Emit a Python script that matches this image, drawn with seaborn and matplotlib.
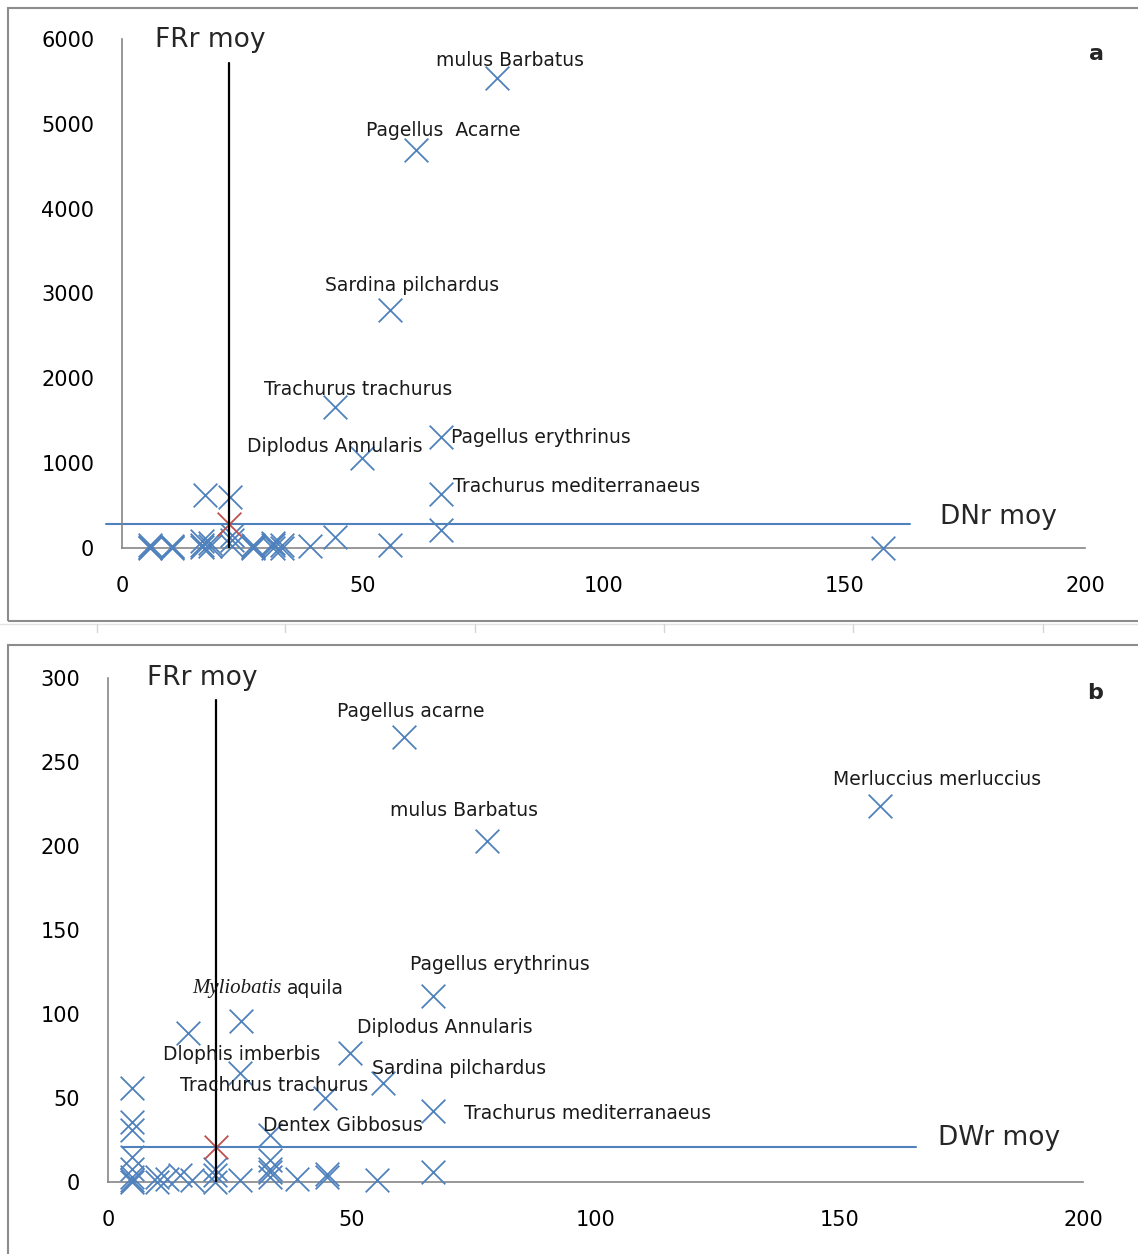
import numpy as np
import pandas as pd
import seaborn as sns
import matplotlib.pyplot as plt
from matplotlib.patches import Rectangle
from matplotlib.lines import Line2D

# ---- panel a : FRr vs DNr ----
a_species = ['mulus Barbatus', 'Pagellus  Acarne', 'Sardina pilchardus',
             'Trachurus trachurus', 'Pagellus erythrinus', 'Diplodus Annularis',
             'Trachurus mediterranaeus']
a_species_x = [77.9, 61.0, 55.7, 44.2, 66.3, 49.8, 66.3]
a_species_y = [5540, 4690, 2800, 1660, 1310, 1060, 640]
a_other_x = [66.3, 17.2, 22.4, 158.0, 55.7, 44.2, 39.0,
             5.8, 5.8, 5.8, 10.4, 10.4, 10.4, 16.6, 16.6, 16.6, 18.3, 18.3,
             22.8, 22.8, 22.8, 27.2, 27.2, 27.2, 31.4, 31.4, 31.4, 33.2, 33.2]
a_other_y = [210, 625, 600, 0, 30, 130, 20,
             0, 15, 30, 0, 10, 25, 40, 80, 10, 60, 20,
             20, 90, 150, 0, 15, 35, 30, 60, 5, 0, 40]
a_mean = (22.2, 283)

# ---- panel b : FRr vs DWr ----
b_species = ['Pagellus acarne', 'Merluccius merluccius', 'mulus Barbatus',
             'Pagellus erythrinus', 'Myliobatis|aquila', 'Diplodus Annularis',
             'Dlophis imberbis', 'Sardina pilchardus', 'Trachurus trachurus',
             'Trachurus mediterranaeus', 'Dentex Gibbosus']
b_species_x = [60.7, 158.4, 77.7, 66.7, 27.3, 49.6, 27.1, 56.4, 44.5, 66.7, 33.2]
b_species_y = [265, 224, 203, 111, 96, 77, 65, 59, 50, 42, 28]
b_other_x = [16.4, 4.9, 4.9, 4.9, 4.9, 4.9, 33.2, 33.2,
             4.9, 4.9, 4.9, 10.0, 10.0, 12.1, 14.8, 17.2, 21.9, 21.9, 21.9,
             27.1, 33.2, 33.2, 38.8, 44.9, 44.9, 55.2, 66.7]
b_other_y = [89, 56, 36, 31, 15, 8, 13, 8,
             0, 1, 3, 0, 3, 2, 4, 1, 0, 4, 8,
             1, 3, 6, 2, 3, 5, 1, 6]
b_mean = (22.1, 21)

# label placement (pixel offsets from the point, alignment)
a_label_pos = [(13, 18, 'center'), (28, 20, 'center'), (22, 25, 'center'),
               (23, 18, 'center'), (10, -1, 'left'), (-27, 12, 'center'),
               (12, 7, 'left')]
b_label_pos = [(7, 25, 'center'), (57, 26, 'center'), (-23, 30, 'center'),
               (67, 31, 'center'), (43, 32, 'split'), (95, 25, 'center'),
               (2, 18, 'center'), (76, 14, 'center'), (-51, 13, 'center'),
               (31, -2, 'left'), (73, 9, 'center')]

sns.set_theme(style='white')
plt.rcParams['font.family'] = ['DejaVu Sans']

BLUE = '#4F81BD'
RED = '#C0504D'
GRAY = '#868686'

fig = plt.figure(figsize=(11.38, 12.54), dpi=100)
ax_a = fig.add_axes([0.1072, 0.563, 0.8462, 0.4059])
ax_b = fig.add_axes([0.0949, 0.0574, 0.8568, 0.4019])


def panel(ax, sp_x, sp_y, sp_names, ot_x, ot_y, mean, ymax, yticks,
          label_pos, vtop, hspan, hlabel, vlabel_pos, hlabel_pos, letter):
    df = pd.DataFrame({'x': list(sp_x) + list(ot_x), 'y': list(sp_y) + list(ot_y)})
    sns.scatterplot(data=df, x='x', y='y', marker='x', s=290, color=BLUE,
                    linewidth=1.3, ax=ax, clip_on=False, zorder=3)
    ax.scatter([mean[0]], [mean[1]], marker='x', s=290, color=RED,
               linewidth=1.3, clip_on=False, zorder=4)
    ax.plot([mean[0], mean[0]], [0, vtop], color='black', lw=1.6, zorder=5)
    ax.plot(hspan, [mean[1], mean[1]], color=BLUE, lw=1.5, clip_on=False, zorder=2)

    for name, x, y, (dx, dy, ha) in zip(sp_names, sp_x, sp_y, label_pos):
        if ha == 'split':
            # genus in serif italic, species in regular text
            genus, sp = name.split('|')
            ax.annotate(genus, xy=(x, y), xytext=(dx - 3, dy), textcoords='offset pixels',
                        ha='right', va='center', fontsize=15, family='Liberation Serif',
                        style='italic', color='#1a1a1a', zorder=6)
            ax.annotate(sp, xy=(x, y), xytext=(dx + 3, dy), textcoords='offset pixels',
                        ha='left', va='center', fontsize=13.5, color='#1a1a1a', zorder=6)
            continue
        ax.annotate(name, xy=(x, y), xytext=(dx, dy), textcoords='offset pixels',
                    ha=ha, va='center', fontsize=13.5, color='#1a1a1a', zorder=6)

    ax.text(vlabel_pos[0], vlabel_pos[1], 'FRr moy', fontsize=19, va='center', ha='left')
    ax.text(hlabel_pos[0], hlabel_pos[1], hlabel, fontsize=19, va='center', ha='left')
    ax.text(1.004, 0.97, letter, transform=ax.transAxes, fontsize=16,
            fontweight='bold', ha='left', va='center')

    ax.set_xlim(0, 200)
    ax.set_ylim(0, ymax)
    ax.set_xticks([0, 50, 100, 150, 200])
    ax.set_yticks(yticks)
    ax.set_xlabel('')
    ax.set_ylabel('')
    for s in ['top', 'right']:
        ax.spines[s].set_visible(False)
    for s in ['left', 'bottom']:
        ax.spines[s].set_color(GRAY)
        ax.spines[s].set_linewidth(1.2)
    ax.tick_params(axis='both', which='major', direction='out', length=8,
                   width=1.2, color=GRAY, labelsize=15, labelcolor='black')
    ax.tick_params(axis='x', pad=12)
    ax.tick_params(axis='y', pad=12)
    ax.patch.set_alpha(0)


panel(ax_a, a_species_x, a_species_y, a_species, a_other_x, a_other_y, a_mean,
      6000, [0, 1000, 2000, 3000, 4000, 5000, 6000], a_label_pos,
      5720, [-3.3, 163.7], 'DNr moy', (6.9, 5990), (169.9, 365), 'a')
panel(ax_b, b_species_x, b_species_y, b_species, b_other_x, b_other_y, b_mean,
      300, [0, 50, 100, 150, 200, 250, 300], b_label_pos,
      287, [2.9, 165.7], 'DWr moy', (8.0, 300), (170.3, 26), 'b')

# panel frames
fig.add_artist(Rectangle((8 / 1138, 1 - 621 / 1254), 1.2, (621 - 8) / 1254,
                         transform=fig.transFigure, fill=False, ec='#8c8c8c', lw=1.5))
fig.add_artist(Rectangle((8 / 1138, -0.1), 1.2, 0.1 + 1 - 645 / 1254,
                         transform=fig.transFigure, fill=False, ec='#8c8c8c', lw=1.5))
# faint ruler between the panels
ry = 1 - 624 / 1254
fig.add_artist(Line2D([0, 1], [ry, ry], transform=fig.transFigure, color='#e3e3e3', lw=1))
for px in [97, 285, 475, 664, 853, 1043]:
    fig.add_artist(Line2D([px / 1138, px / 1138], [ry, ry - 8 / 1254],
                          transform=fig.transFigure, color='#d5d5d5', lw=1))

fig.savefig('out.png', dpi=100)
